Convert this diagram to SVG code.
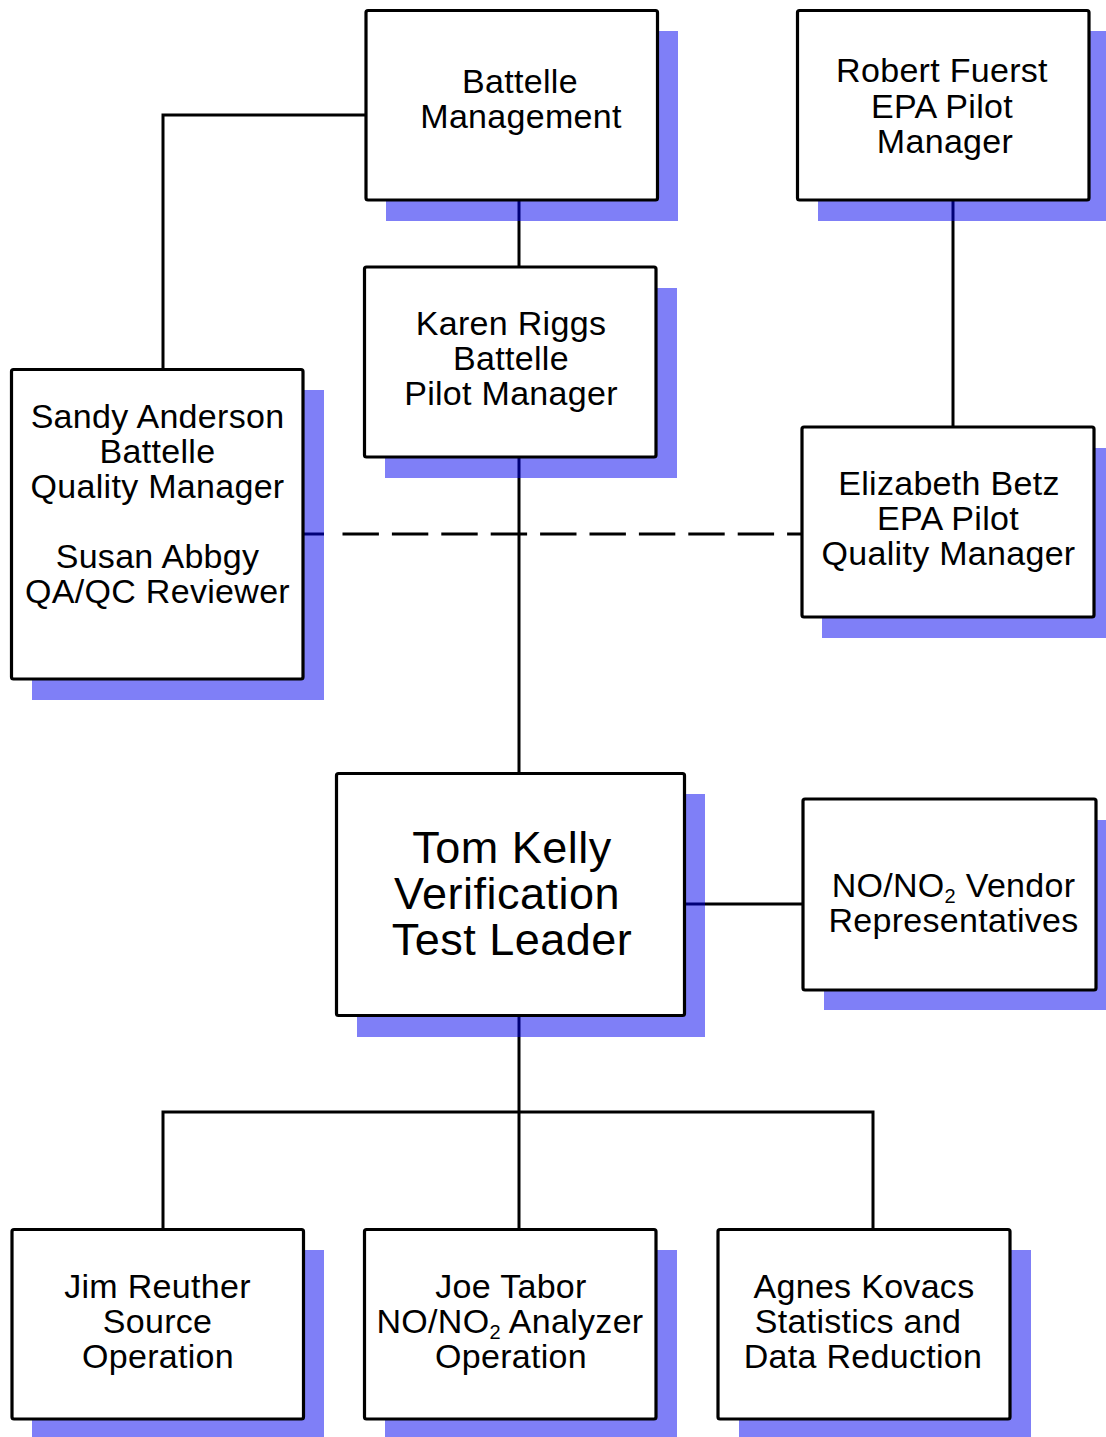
<svg xmlns="http://www.w3.org/2000/svg" width="1106" height="1437" viewBox="0 0 1106 1437">
<style>
.bg{fill:#ffffff}
.sh{fill:#0000f0;fill-opacity:0.5;stroke:none}
.bx{fill:#ffffff;stroke:#000000;stroke-width:3.2;stroke-linejoin:round}
.ln{fill:none;stroke:#000000;stroke-width:3}
.dash{fill:none;stroke:#000000;stroke-width:3;stroke-dasharray:36.4 13}
.t{font-family:"Liberation Sans",Arial,sans-serif;font-size:34px;letter-spacing:0.3px;fill:#000000;text-anchor:middle}
.tb{font-family:"Liberation Sans",Arial,sans-serif;font-size:45px;letter-spacing:0.5px;fill:#000000;text-anchor:middle}
.sub{font-size:20px}
</style>
<rect class="bg" x="0" y="0" width="1106" height="1437"/>
<g id="connectors">
<polyline class="ln" points="366,115 163,115 163,370"/>
<line class="ln" x1="519" y1="200" x2="519" y2="267"/>
<line class="ln" x1="519" y1="457" x2="519" y2="773"/>
<line class="ln" x1="953" y1="200" x2="953" y2="427"/>
<line class="ln" x1="303" y1="534" x2="324" y2="534"/>
<line class="dash" x1="342.5" y1="534" x2="802" y2="534"/>
<line class="ln" x1="684" y1="904" x2="803" y2="904"/>
<line class="ln" x1="519" y1="1016" x2="519" y2="1229"/>
<polyline class="ln" points="163,1229 163,1112 873,1112 873,1229"/>
</g>
<g id="battelle-management">
<rect class="sh" x="386" y="31" width="292" height="190"/>
<rect class="bx" x="366" y="10.5" width="291.5" height="189.5" rx="2"/>
<text class="t" x="520" y="93">Battelle</text>
<text class="t" x="521" y="128">Management</text>
</g>
<g id="robert-fuerst">
<rect class="sh" x="818" y="31" width="292" height="190"/>
<rect class="bx" x="797.5" y="10.5" width="291.5" height="189.5" rx="2"/>
<text class="t" x="942" y="82">Robert Fuerst</text>
<text class="t" x="942" y="118">EPA Pilot</text>
<text class="t" x="945" y="153">Manager</text>
</g>
<g id="karen-riggs">
<rect class="sh" x="385" y="288" width="292" height="190"/>
<rect class="bx" x="364.5" y="267" width="291.5" height="190" rx="2"/>
<text class="t" x="511" y="335">Karen Riggs</text>
<text class="t" x="511" y="370">Battelle</text>
<text class="t" x="511" y="405">Pilot Manager</text>
</g>
<g id="sandy-anderson">
<rect class="sh" x="32" y="390" width="292" height="310"/>
<rect class="bx" x="11.5" y="369.5" width="291.5" height="309.5" rx="2"/>
<text class="t" x="157.5" y="428">Sandy Anderson</text>
<text class="t" x="157.5" y="463">Battelle</text>
<text class="t" x="157.5" y="498">Quality Manager</text>
<text class="t" x="157.5" y="568">Susan Abbgy</text>
<text class="t" x="157.5" y="603">QA/QC Reviewer</text>
</g>
<g id="elizabeth-betz">
<rect class="sh" x="822" y="448" width="292" height="190"/>
<rect class="bx" x="802" y="427" width="292" height="190" rx="2"/>
<text class="t" x="949" y="495">Elizabeth Betz</text>
<text class="t" x="948" y="530">EPA Pilot</text>
<text class="t" x="948.5" y="565">Quality Manager</text>
</g>
<g id="tom-kelly">
<rect class="sh" x="357" y="794" width="348" height="243"/>
<rect class="bx" x="336.5" y="773.5" width="348" height="242" rx="2"/>
<text class="tb" x="512" y="863">Tom Kelly</text>
<text class="tb" x="507" y="909">Verification</text>
<text class="tb" x="512" y="955">Test Leader</text>
</g>
<g id="vendor-representatives">
<rect class="sh" x="824" y="820" width="293" height="190"/>
<rect class="bx" x="803" y="799" width="293" height="191" rx="2"/>
<text class="t" x="953.5" y="897">NO/NO<tspan class="sub" dy="6">2</tspan><tspan dy="-6"> Vendor</tspan></text>
<text class="t" x="953.5" y="932">Representatives</text>
</g>
<g id="jim-reuther">
<rect class="sh" x="32" y="1250" width="292" height="187"/>
<rect class="bx" x="12" y="1229.5" width="291.5" height="189.5" rx="2"/>
<text class="t" x="157.5" y="1298">Jim Reuther</text>
<text class="t" x="157.5" y="1333">Source</text>
<text class="t" x="158" y="1368">Operation</text>
</g>
<g id="joe-tabor">
<rect class="sh" x="385" y="1250" width="292" height="187"/>
<rect class="bx" x="364.5" y="1229.5" width="291.5" height="189.5" rx="2"/>
<text class="t" x="511" y="1298">Joe Tabor</text>
<text class="t" x="510" y="1333">NO/NO<tspan class="sub" dy="6">2</tspan><tspan dy="-6"> Analyzer</tspan></text>
<text class="t" x="511" y="1368">Operation</text>
</g>
<g id="agnes-kovacs">
<rect class="sh" x="739" y="1250" width="292" height="187"/>
<rect class="bx" x="718" y="1229.5" width="292" height="189.5" rx="2"/>
<text class="t" x="864" y="1298">Agnes Kovacs</text>
<text class="t" x="858" y="1333">Statistics and</text>
<text class="t" x="863" y="1368">Data Reduction</text>
</g>
</svg>
